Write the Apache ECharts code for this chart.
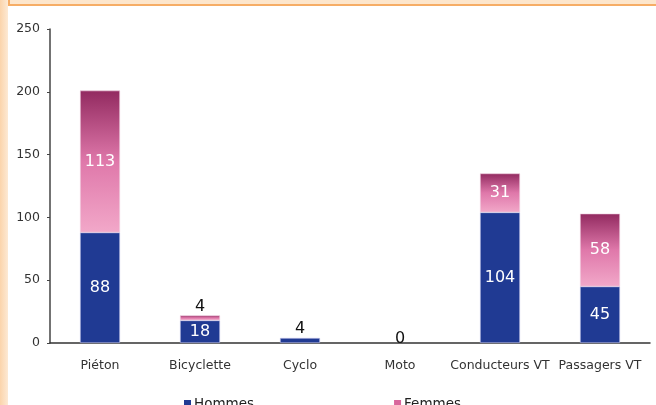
<!DOCTYPE html>
<html><head><meta charset="utf-8">
<script src="https://cdn.jsdelivr.net/npm/echarts@6/dist/echarts.min.js"></script>
<style>html,body{margin:0;padding:0;background:#fff}#c{width:656px;height:405px}</style>
</head><body><div id="c"></div>
<script>
var categories = ['Piéton', 'Bicyclette', 'Cyclo', 'Moto', 'Conducteurs VT', 'Passagers VT'];
var hommes = [88, 18, 4, 0, 104, 45];
var femmes = [113, 4, 0, 0, 31, 58];
var yTicks = [0, 50, 100, 150, 200, 250];

var pinkGrad = new echarts.graphic.LinearGradient(0, 0, 0, 1, [
  {offset: 0, color: '#922a60'},
  {offset: 0.5, color: '#df78aa'},
  {offset: 1, color: '#f2a8c9'}
]);
var outsideLabel = {show: true, position: 'top', color: '#111', fontSize: 16, distance: 1};

var hData = hommes.map(function (v, i) {
  var d = {value: v};
  if (v === 0) {
    d.label = {show: true, position: 'top', color: '#111', fontSize: 16, distance: 0, offset: [0, 4]};
    d.itemStyle = {borderWidth: 0};
  } else if (v < 8) d.label = outsideLabel;
  return d;
});
var fData = femmes.map(function (v, i) {
  var d = {value: v};
  if (v === 0) { d.label = {show: false}; d.itemStyle = {borderWidth: 0}; }
  else if (v < 8) d.label = outsideLabel;
  return d;
});

var chart = echarts.init(document.getElementById('c'));
chart.setOption({
  animation: false,
  backgroundColor: '#fff',
  textStyle: {fontFamily: 'DejaVu Sans, sans-serif'},
  graphic: [
    {type: 'rect', shape: {x: 0, y: 0, width: 8, height: 405}, z: 100,
      style: {fill: new echarts.graphic.LinearGradient(0, 0, 1, 0, [{offset: 0, color: '#fbd4ab'}, {offset: 1, color: '#fde9d4'}])}},
    {type: 'rect', shape: {x: 9, y: -10, width: 660, height: 15}, z: 100,
      style: {fill: '#fde6cc', stroke: '#f6ad66', lineWidth: 2}}
  ],
  legend: {
    left: 179, top: 392, itemWidth: 7, itemHeight: 8, itemGap: 140,
    icon: 'rect',
    textStyle: {fontSize: 13.5, color: '#222', padding: [0, 0, 0, -2]},
    data: [{name: 'Hommes', itemStyle: {color: '#203a93', borderWidth: 0}},
           {name: 'Femmes', itemStyle: {color: '#d9669c', borderWidth: 0}}]
  },
  grid: {left: 50, right: 6, top: 29, bottom: 62},
  xAxis: {
    type: 'category', data: categories,
    axisLine: {lineStyle: {color: '#333', width: 1.5}},
    axisTick: {show: false},
    axisLabel: {color: '#333', fontSize: 12.5, margin: 16, interval: 0}
  },
  yAxis: {
    type: 'value', min: 0, max: 250, interval: 50,
    axisLine: {show: true, lineStyle: {color: '#444', width: 1.5}},
    axisTick: {show: true, length: 3, lineStyle: {color: '#444'}},
    splitLine: {show: false},
    axisLabel: {color: '#333', fontSize: 12.5, margin: 10,
      formatter: function (v) { return yTicks.indexOf(v) >= 0 ? String(v) : ''; }}
  },
  series: [
    {name: 'Hommes', type: 'bar', stack: 't', barWidth: 40, data: hData,
      itemStyle: {color: '#203a93', borderColor: '#c8c8ec', borderWidth: 0.6},
      label: {show: true, position: 'inside', color: '#fff', fontSize: 16}},
    {name: 'Femmes', type: 'bar', stack: 't', barWidth: 40, data: fData,
      itemStyle: {color: pinkGrad, borderColor: '#f0d0e0', borderWidth: 0.6},
      label: {show: true, position: 'inside', color: '#fff', fontSize: 16}}
  ]
});
</script></body></html>
